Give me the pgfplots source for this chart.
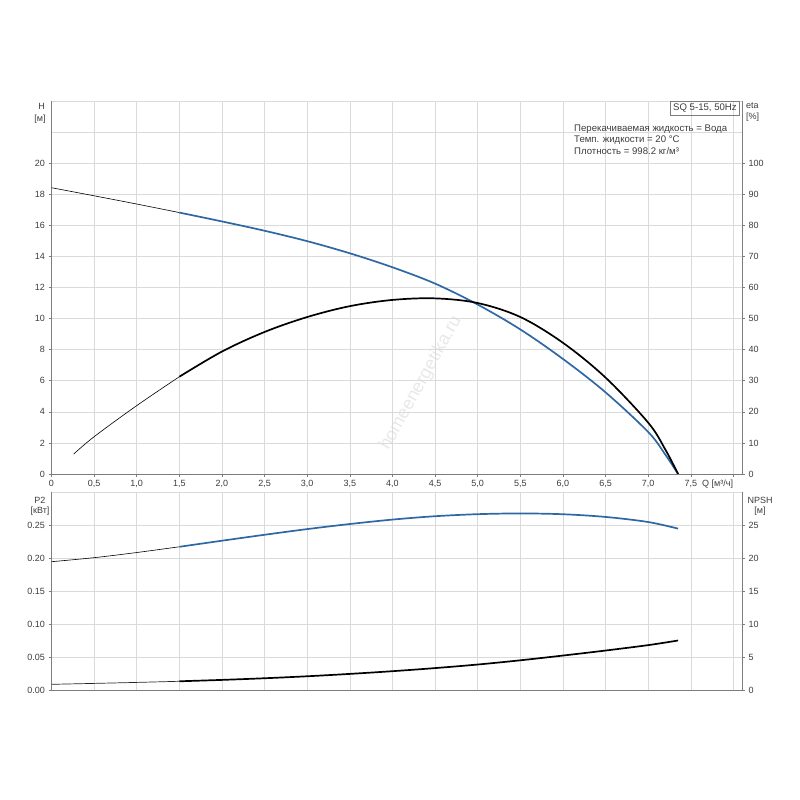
\documentclass[border=0pt]{standalone}
\usepackage{fontspec}
\setmainfont{Liberation Sans}
\usepackage{pgfplots}
\pgfplotsset{compat=1.18}
\definecolor{hblue}{RGB}{46,104,164}
\definecolor{axgray}{RGB}{125,125,125}
\definecolor{gridgray}{RGB}{218,218,218}
\definecolor{txt}{RGB}{60,60,60}
\definecolor{thin}{RGB}{150,150,150}
\begin{document}
\begin{tikzpicture}[x=1pt,y=1pt]
\path[use as bounding box] (0,0) rectangle (800,800);
\node[rotate=61, text=gray!18, font=\fontsize{18}{18}\selectfont] at (421,417) {homeenergetika.ru};
\pgfplotsset{
 base/.style={scale only axis, width=690.5pt, xmin=0, xmax=8.1,
   anchor=origin, tick align=outside, major tick length=3pt,
   tick style={axgray, line width=0.6pt},
   axis line style={axgray, line width=0.8pt},
   ticklabel style={font=\fontsize{9}{10}\selectfont, text=txt},
   /pgf/number format/assume math mode=true},
 curve/.style={smooth, tension=0.55, mark=none},
}
% ---------------- top panel: H ----------------
\begin{axis}[base, at={(51.5pt,326pt)}, height=373pt, ymin=0, ymax=24,
  xtick={0,0.5,1,1.5,2,2.5,3,3.5,4,4.5,5,5.5,6,6.5,7,7.5,8},
  xticklabels={0,{0,5},{1,0},{1,5},{2,0},{2,5},{3,0},{3,5},{4,0},{4,5},{5,0},{5,5},{6,0},{6,5},{7,0},{7,5},{}},
  ytick={0,2,4,6,8,10,12,14,16,18,20},
  extra y ticks={22,24}, extra y tick labels={},
  extra y tick style={major tick length=0pt},
  ytick pos=left, xtick pos=bottom,
  grid=major, grid style={gridgray, line width=0.6pt}]
\addplot[curve, thin, line width=0.6pt] coordinates {(0,18.42) (0.5,17.9) (1.0,17.37) (1.5,16.82)};
\addplot[curve, hblue, line width=1.7pt] coordinates {
 (1.5,16.82) (2.0,16.25) (2.5,15.65) (3.0,14.98) (3.5,14.2) (4.0,13.3) (4.5,12.25)
 (5.0,10.9) (5.5,9.3) (6.0,7.4) (6.5,5.25) (7.0,2.7) (7.2,1.25) (7.35,0)};
\end{axis}
% ---------------- top panel: eta ----------------
\begin{axis}[base, at={(51.5pt,326pt)}, height=373pt, ymin=0, ymax=120,
  axis x line=none, axis y line*=right,
  ytick={0,10,20,30,40,50,60,70,80,90,100}]
\addplot[curve, thin, line width=0.6pt] coordinates {(0.26,6.4) (0.5,12.0) (1.0,22.0) (1.5,31.3)};
\addplot[curve, black, line width=1.7pt] coordinates {
 (1.5,31.3) (2.0,39.4) (2.5,45.7) (3.0,50.5) (3.5,54.0) (4.0,56.0) (4.5,56.5)
 (5.0,55.0) (5.5,50.5) (6.0,42.2) (6.5,31.0) (7.0,16.5) (7.2,7.9) (7.35,0)};
\end{axis}
% ---------------- bottom panel: P2 ----------------
\begin{axis}[base, at={(51.5pt,110pt)}, height=198pt, ymin=0, ymax=0.30,
  xtick={0,0.5,1,1.5,2,2.5,3,3.5,4,4.5,5,5.5,6,6.5,7,7.5,8},
  xticklabels={}, xtick style={draw=none},
  ytick={0,0.05,0.10,0.15,0.20,0.25},
  yticklabels={0.00,0.05,0.10,0.15,0.20,0.25},
  extra y ticks={0.30}, extra y tick labels={},
  extra y tick style={major tick length=0pt},
  ytick pos=left, xtick pos=bottom,
  grid=major, grid style={gridgray, line width=0.6pt}]
\addplot[curve, thin, line width=0.6pt] coordinates {(0,0.1944) (0.5,0.2005) (1.0,0.2083) (1.5,0.217)};
\addplot[curve, hblue, line width=1.7pt] coordinates {
 (1.5,0.217) (2.0,0.2262) (2.5,0.2352) (3.0,0.2438) (3.5,0.2515) (4.0,0.2582) (4.5,0.2633)
 (5.0,0.2664) (5.5,0.2675) (6.0,0.2663) (6.5,0.2622) (7.0,0.2545) (7.35,0.2445)};
\end{axis}
% ---------------- bottom panel: NPSH ----------------
\begin{axis}[base, at={(51.5pt,110pt)}, height=198pt, ymin=0, ymax=30,
  axis x line=none, axis y line*=right,
  ytick={0,5,10,15,20,25}]
\addplot[curve, black!85, line width=0.7pt] coordinates {(0,0.86) (0.5,1.0) (1.0,1.15) (1.5,1.32)};
\addplot[curve, black, line width=1.7pt] coordinates {
 (1.5,1.32) (2.0,1.53) (2.5,1.78) (3.0,2.08) (3.5,2.44) (4.0,2.85) (4.5,3.32)
 (5.0,3.86) (5.5,4.5) (6.0,5.22) (6.5,5.98) (7.0,6.8) (7.35,7.5)};
\end{axis}
% ---------------- labels ----------------
\begin{scope}[every node/.style={font=\fontsize{9}{10}\selectfont, text=txt, inner sep=0pt}]
\node at (41.5,694) {H};
\node at (40,681) {[м]};
\node[anchor=west] at (746,694) {eta};
\node[anchor=west] at (746,683) {[\%]};
\node at (40,300) {P2};
\node at (40,289) {[кВт]};
\node at (760,300) {NPSH};
\node at (760,288.5) {[м]};
\node[anchor=west] at (702,316) {Q [м³/ч]};
\end{scope}
\begin{scope}[every node/.style={font=\fontsize{9.6}{11}\selectfont, text=txt, inner sep=0pt}]
\node[draw=axgray, line width=0.6pt, inner sep=2.5pt, anchor=north east] at (739.5,698.5) {SQ 5-15, 50Hz};
\node[anchor=west] at (574,670.7) {Перекачиваемая жидкость = Вода};
\node[anchor=west] at (574,660) {Темп. жидкости = 20 °C};
\node[anchor=west] at (574,649.3) {Плотность = 998.2 кг/м³};
\end{scope}
\end{tikzpicture}
\end{document}
